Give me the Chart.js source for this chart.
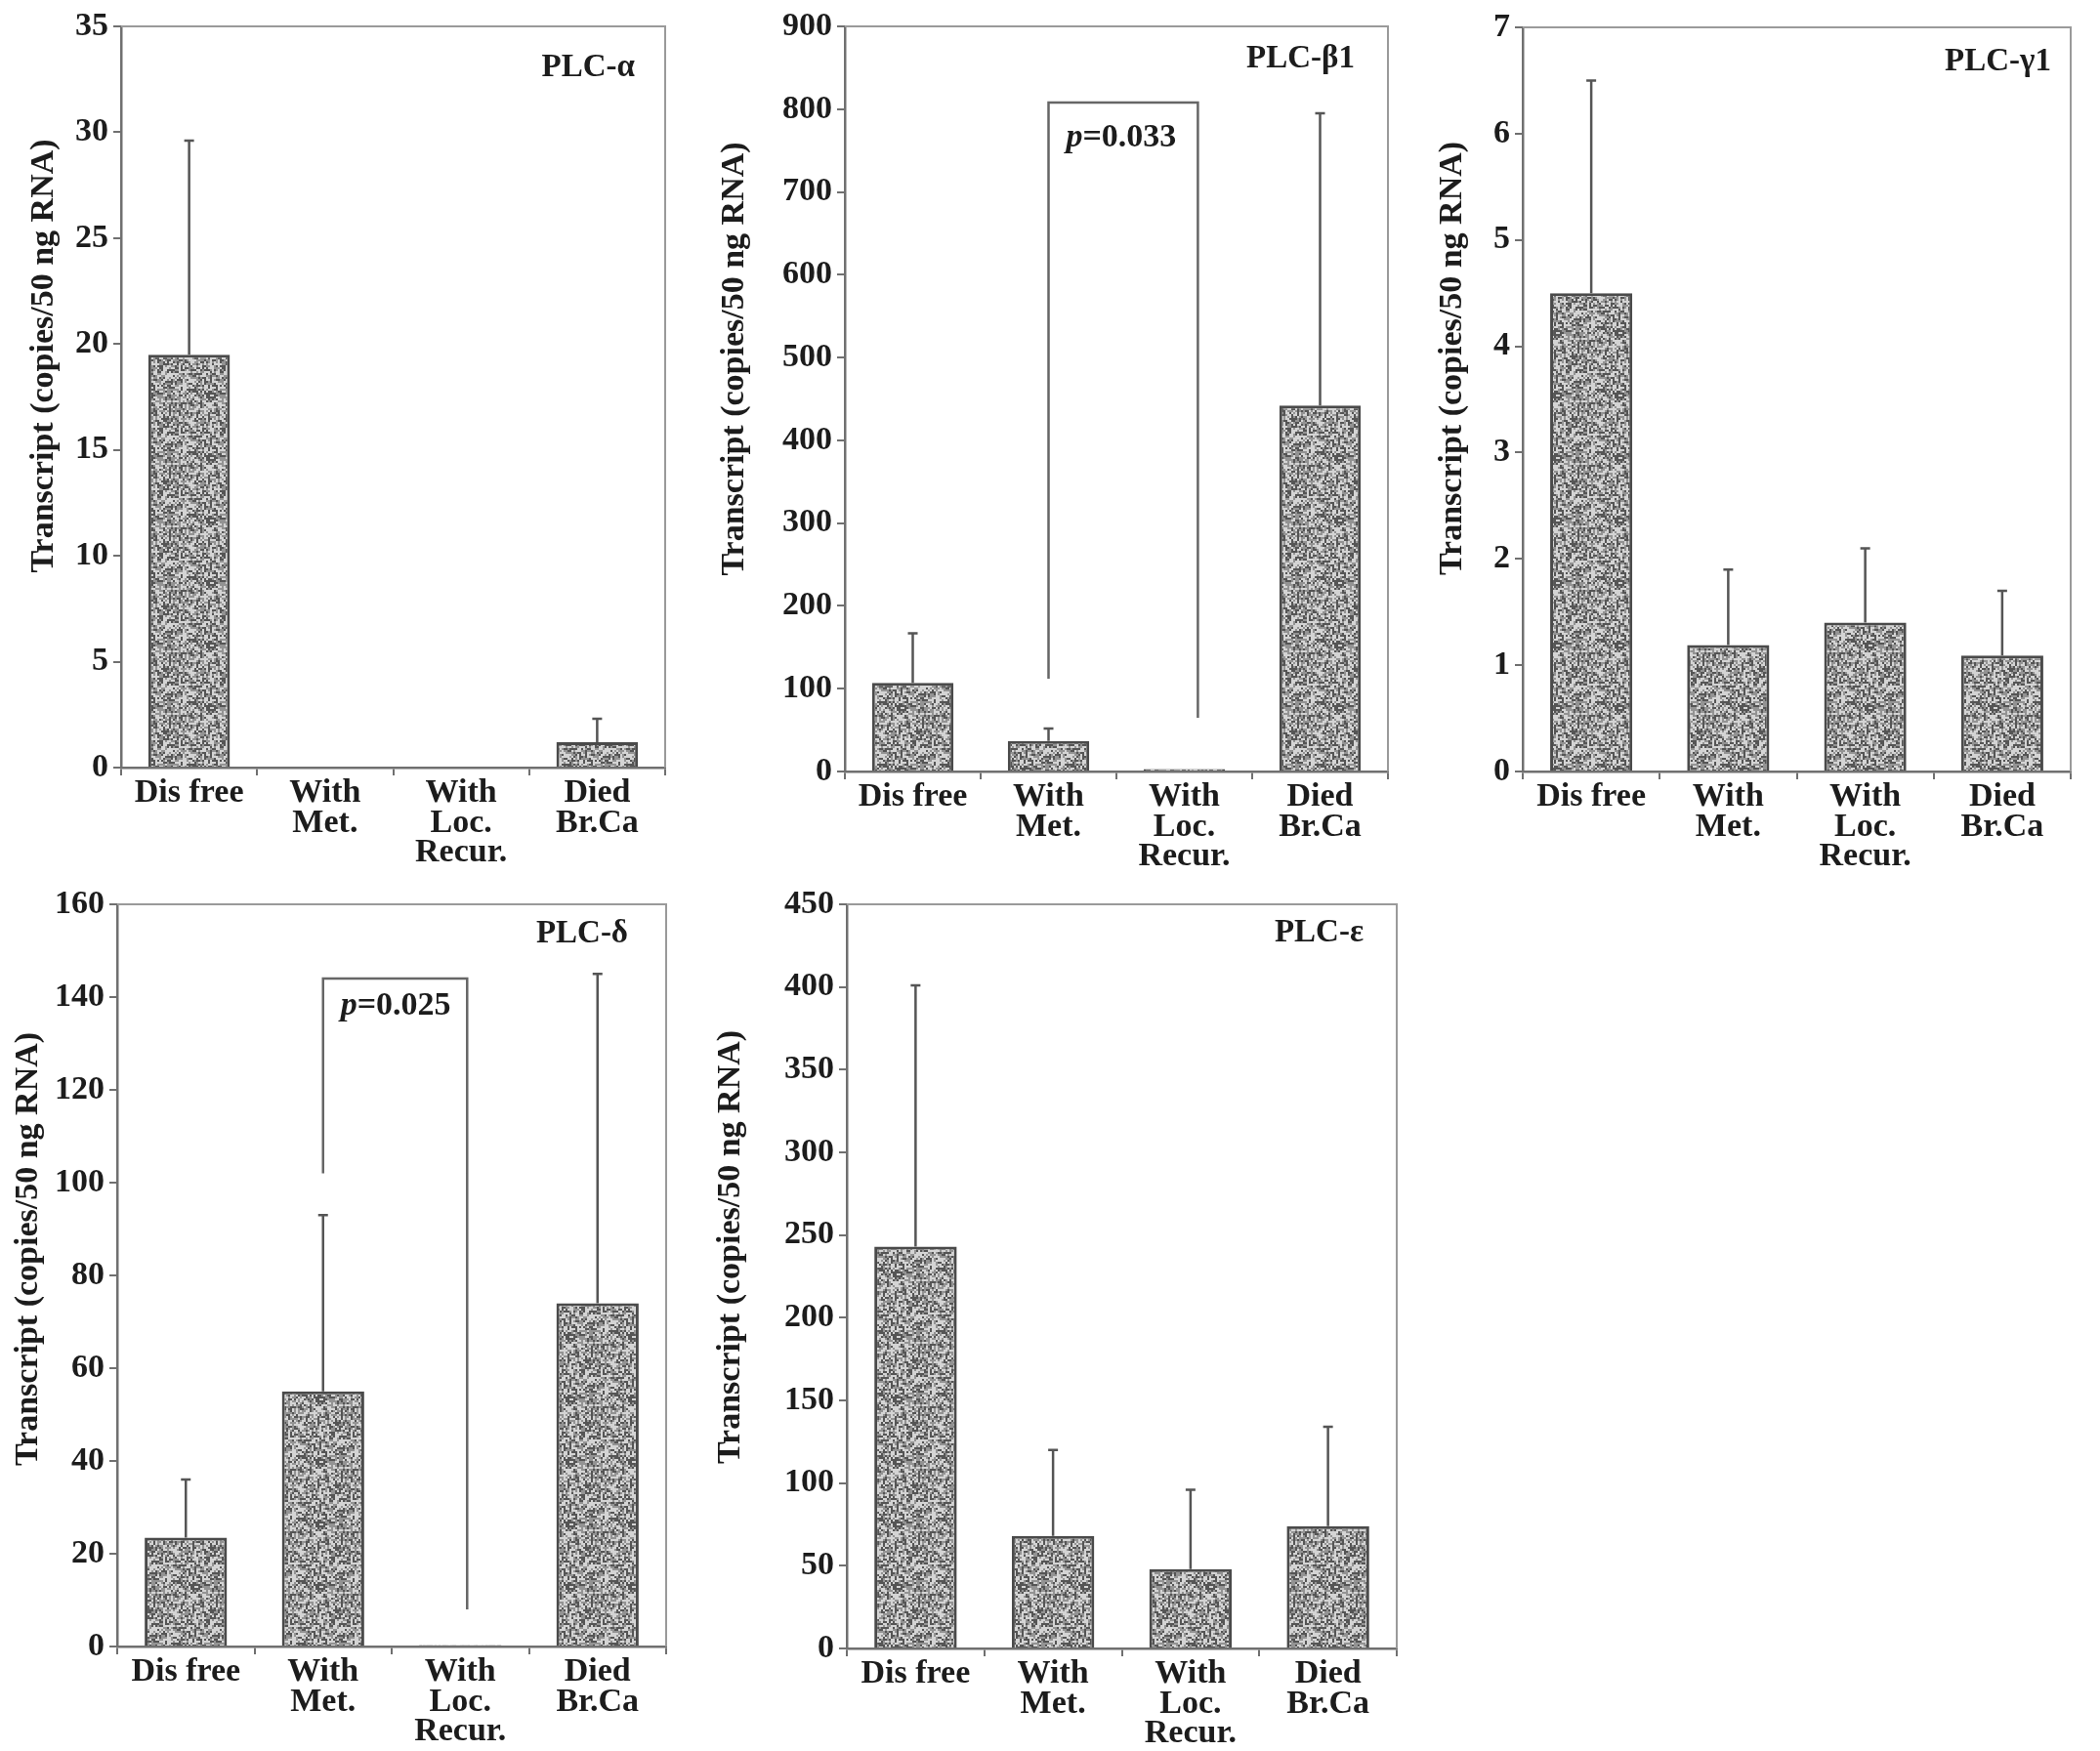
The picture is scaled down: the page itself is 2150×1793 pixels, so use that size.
<!DOCTYPE html>
<html>
<head>
<meta charset="utf-8">
<title>PLC transcripts</title>
<script src="https://cdn.jsdelivr.net/npm/chart.js@4.4.1/dist/chart.umd.min.js"></script>
<style>
  html, body { margin: 0; padding: 0; background: #fff; }
  body { width: 2150px; height: 1793px; position: relative; overflow: hidden; }
  canvas { position: absolute; }
</style>
</head>
<body>
<canvas id="c1"></canvas>
<canvas id="c2"></canvas>
<canvas id="c3"></canvas>
<canvas id="c4"></canvas>
<canvas id="c5"></canvas>
<script>
// patient groups on the x axis
var groups = ["Dis free", ["With", "Met."], ["With", "Loc.", "Recur."], ["Died", "Br.Ca"]];

// mean transcript and top of the error bar
var plcAlpha = [19.5, 0, 0, 1.2];
var plcAlphaErr = [29.6, null, null, 2.3];
var plcBeta1 = [107, 37, 3, 442];
var plcBeta1Err = [167, 52, null, 795];
var plcGamma1 = [4.5, 1.19, 1.4, 1.09];
var plcGamma1Err = [6.5, 1.9, 2.1, 1.7];
var plcDelta = [23.5, 55, 0.3, 74];
var plcDeltaErr = [36, 93, null, 145];
var plcEpsilon = [243, 68, 48, 74];
var plcEpsilonErr = [401, 120, 96, 134];

// y axis ranges
var yMax = [35, 900, 7, 160, 450];
var yStep = [5, 100, 1, 20, 50];

// significance brackets: from group, to group, top, left end, right end
var beta1Bracket = [1, 2.1, 808, 112, 65];
var deltaBracket = [1, 2.05, 144, 102, 8];
var beta1P = ["=0.033", 765];
var deltaP = ["=0.025", 138];

var titles = ["PLC-\u03b1", "PLC-\u03b21", "PLC-\u03b31", "PLC-\u03b4", "PLC-\u03b5"];
var yTitle = "Transcript (copies/50 ng RNA)";

var FONT = "'Liberation Serif', 'Times New Roman', serif";
var INK = '#1c1c1c';
var AXIS = '#707070';

Chart.defaults.font.family = FONT;
Chart.defaults.font.weight = 'bold';
Chart.defaults.color = INK;

// speckled grey fill like the original bars
function speckle() {
  var c = document.createElement('canvas');
  c.width = 64; c.height = 64;
  var g = c.getContext('2d');
  for (var i = 0; i < 32; i++) {
    for (var j = 0; j < 32; j++) {
      var h = Math.imul(i * 374761393 + j * 668265263, 1274126177);
      h ^= h >>> 15;
      h = Math.imul(h, 2246822519);
      h ^= h >>> 13;
      var v = (h >>> 0) / 4294967296;
      g.fillStyle = v < 0.3 ? '#555555' : (v < 0.62 ? '#939393' : '#d4d4d4');
      g.fillRect(i * 2, j * 2, 2, 2);
    }
  }
  return g.createPattern(c, 'repeat');
}
var fill = speckle();

// canvas box, plot area, panel name offset, y title centre [x, shift]
var panels = [
  { id: 'c1', data: plcAlpha, err: plcAlphaErr, k: 0,
    box: { x: 23, y: 0, w: 677, h: 900 }, area: { l: 124, t: 27, r: 681, b: 786 }, tt: [31, 42], yt: [45, -42] },
  { id: 'c2', data: plcBeta1, err: plcBeta1Err, k: 1, bracket: beta1Bracket, p: beta1P,
    box: { x: 730, y: 0, w: 720, h: 900 }, area: { l: 865, t: 27, r: 1421, b: 790 }, tt: [34, 33], yt: [752, -41] },
  { id: 'c3', data: plcGamma1, err: plcGamma1Err, k: 2,
    box: { x: 1465, y: 0, w: 685, h: 900 }, area: { l: 1559, t: 28, r: 2120, b: 790 }, tt: [20, 35], yt: [1487, -42] },
  { id: 'c4', data: plcDelta, err: plcDeltaErr, k: 3, bracket: deltaBracket, p: deltaP,
    box: { x: 7, y: 900, w: 693, h: 893 }, area: { l: 120, t: 926, r: 682, b: 1686 }, tt: [39, 30], yt: [29, -27] },
  { id: 'c5', data: plcEpsilon, err: plcEpsilonErr, k: 4,
    box: { x: 726, y: 900, w: 724, h: 893 }, area: { l: 867, t: 926, r: 1430, b: 1688 }, tt: [34, 29], yt: [748, -30] }
];

function extras(p) {
  return {
    id: 'extras',
    afterDatasetsDraw: function(chart) {
      var ctx = chart.ctx, xs = chart.scales.x, ys = chart.scales.y, a = chart.chartArea;
      ctx.save();

      // error bars (upper only)
      ctx.strokeStyle = '#555';
      ctx.lineWidth = 2.5;
      p.err.forEach(function(e, i) {
        if (e == null) return;
        var cx = xs.getPixelForValue(i);
        var y0 = ys.getPixelForValue(p.data[i]);
        var y1 = ys.getPixelForValue(e);
        ctx.beginPath();
        ctx.moveTo(cx, y0); ctx.lineTo(cx, y1);
        ctx.moveTo(cx - 5, y1); ctx.lineTo(cx + 5, y1);
        ctx.stroke();
      });

      // significance bracket
      if (p.bracket) {
        var b = p.bracket;
        var xl = xs.getPixelForValue(b[0]), xr = xs.getPixelForValue(b[1]);
        ctx.strokeStyle = '#666';
        ctx.lineWidth = 2.5;
        ctx.beginPath();
        ctx.moveTo(xl, ys.getPixelForValue(b[3]));
        ctx.lineTo(xl, ys.getPixelForValue(b[2]));
        ctx.lineTo(xr, ys.getPixelForValue(b[2]));
        ctx.lineTo(xr, ys.getPixelForValue(b[4]));
        ctx.stroke();

        var ty = ys.getPixelForValue(p.p[1]);
        ctx.fillStyle = INK;
        ctx.textBaseline = 'middle';
        ctx.textAlign = 'left';
        ctx.font = 'italic bold 34px ' + FONT;
        ctx.fillText('p', xl + 18, ty);
        var w = ctx.measureText('p').width;
        ctx.font = 'bold 34px ' + FONT;
        ctx.fillText(p.p[0], xl + 18 + w, ty);
      }

      // top and right frame
      ctx.strokeStyle = '#9a9a9a';
      ctx.lineWidth = 2;
      ctx.beginPath();
      ctx.moveTo(a.left, a.top);
      ctx.lineTo(a.right, a.top);
      ctx.lineTo(a.right, a.bottom);
      ctx.stroke();

      // panel name
      ctx.fillStyle = INK;
      ctx.font = 'bold 33px ' + FONT;
      ctx.textAlign = 'right';
      ctx.textBaseline = 'middle';
      ctx.fillText(titles[p.k], a.right - p.tt[0], a.top + p.tt[1]);

      // y axis title
      ctx.translate(p.yt[0] - p.box.x, (a.top + a.bottom) / 2 + p.yt[1]);
      ctx.rotate(-Math.PI / 2);
      ctx.textAlign = 'center';
      ctx.font = 'bold 34px ' + FONT;
      ctx.fillText(yTitle, 0, 0);
      ctx.restore();
    }
  };
}

panels.forEach(function(p) {
  var cv = document.getElementById(p.id);
  cv.width = p.box.w; cv.height = p.box.h;
  cv.style.left = p.box.x + 'px';
  cv.style.top = p.box.y + 'px';
  cv.style.width = p.box.w + 'px';
  cv.style.height = p.box.h + 'px';

  new Chart(cv.getContext('2d'), {
    type: 'bar',
    data: {
      labels: groups,
      datasets: [{
        data: p.data,
        backgroundColor: fill,
        borderColor: '#4a4a4a',
        borderWidth: 3,
        barPercentage: 0.6,
        categoryPercentage: 1.0
      }]
    },
    options: {
      responsive: false,
      animation: false,
      devicePixelRatio: 1,
      layout: {
        padding: { top: p.area.t - p.box.y, right: p.box.x + p.box.w - p.area.r, left: 0, bottom: 0 }
      },
      plugins: { legend: { display: false }, tooltip: { enabled: false } },
      scales: {
        x: {
          afterFit: function(s) { s.height = p.box.y + p.box.h - p.area.b; },
          border: { color: AXIS, width: 2.5 },
          grid: { drawOnChartArea: false, tickLength: 8, color: AXIS, lineWidth: 2 },
          ticks: {
            autoSkip: false, maxRotation: 0, minRotation: 0, padding: 3,
            color: INK, font: { size: 34, weight: 'bold', lineHeight: 0.9 }
          }
        },
        y: {
          min: 0,
          max: yMax[p.k],
          afterFit: function(s) { s.width = p.area.l - p.box.x; },
          border: { color: AXIS, width: 2.5 },
          grid: { drawOnChartArea: false, tickLength: 8, color: AXIS, lineWidth: 2 },
          ticks: { stepSize: yStep[p.k], padding: 5, color: INK, font: { size: 34, weight: 'bold' } }
        }
      }
    },
    plugins: [extras(p)]
  });
});
</script>
</body>
</html>
